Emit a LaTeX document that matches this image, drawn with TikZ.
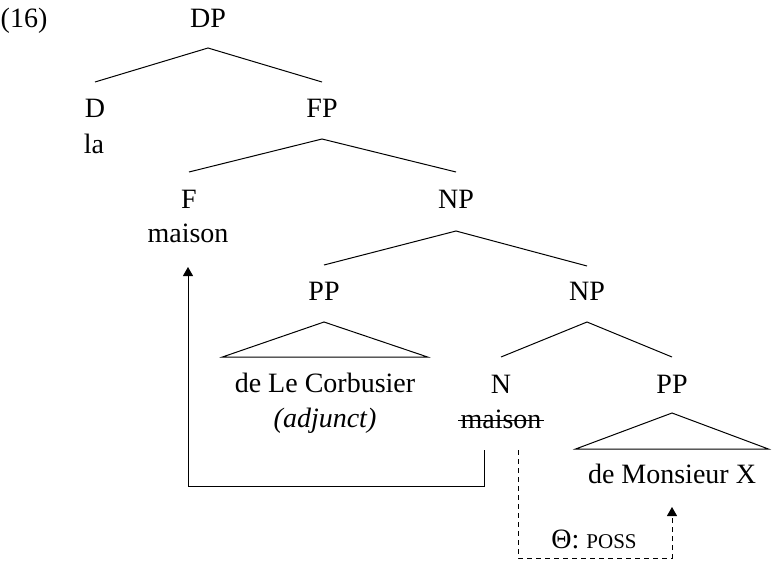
\documentclass[tikz,border=0pt]{standalone}
\usepackage{fontspec}
\setmainfont{Liberation Serif}
\usetikzlibrary{arrows.meta}

\begin{document}
\begin{tikzpicture}[x=0.5pt,y=-0.5pt,
    every node/.style={anchor=base,inner sep=0pt,font=\fontsize{14}{17}\selectfont},
    branch/.style={line width=0.5pt},
    movearrow/.style={line width=0.5pt,-{Triangle[width=5pt,length=4.5pt]}},
    thetaarrow/.style={movearrow,dash pattern=on 2.5pt off 2pt}]
                \useasboundingbox (0,0) rectangle (774,561);
                % labels of the tree
                \node (ex) at (24,28) {(16)};
                \node (dp) at (208,28) {DP};
                \node (d) at (95,118) {D};
                \node (la) at (94,154) {la};
                \node (fp) at (322,118) {FP};
                \node (f) at (189,208) {F};
                \node (fmaison) at (188,242) {maison};
                \node (np) at (456,208) {NP};
                \node (pp) at (324,300) {PP};
                \node (corb) at (325,392) {de Le Corbusier};
                \node (adj) at (325,427) {\itshape (adjunct)};
                \node (np2) at (587,300) {NP};
                \node (n) at (501,393) {N};
                \node (nmaison) at (501,428) {maison};
                \node (pp2) at (672,393) {PP};
                \node (monsieur) at (672,483) {de Monsieur X};
                \node (poss) at (594,548) {Θ: {\fontsize{10.5}{12}\selectfont POSS}};
                % branches
                \draw[branch] ([yshift=18pt]d.base) -- ([yshift=-10pt]dp.base) -- ([yshift=18pt]fp.base);
                \draw[branch] ([yshift=18pt]f.base) -- ([yshift=-10.5pt]fp.base) -- ([yshift=18pt]np.base);
                \draw[branch] ([yshift=17.5pt]pp.base) -- ([yshift=-11.5pt]np.base) -- ([yshift=17pt]np2.base);
                \draw[branch] ([yshift=18pt]n.base) -- ([yshift=-11pt]np2.base) -- ([yshift=18pt]pp2.base);
                % triangles
                \draw[branch] ([yshift=-11pt]pp.base) -- ([xshift=-6pt,yshift=17.5pt]corb.base west)
                    -- ([xshift=6pt,yshift=17.5pt]corb.base east) -- cycle;
                \draw[branch] ([yshift=-10pt]pp2.base) -- ([xshift=-6pt,yshift=17pt]monsieur.base west)
                    -- ([xshift=6pt,yshift=17pt]monsieur.base east) -- cycle;
                % trace
                \draw[branch] ([xshift=-1pt,yshift=3.6pt]nmaison.base west) -- ([xshift=1pt,yshift=3.6pt]nmaison.base east);
                % movement and theta role
                \draw[movearrow] ([xshift=-8.5pt,yshift=-11pt]nmaison.base) -- ++(0,36) -| ([yshift=-12.5pt]fmaison.base);
                \draw[thetaarrow] ([xshift=8.5pt,yshift=-11pt]nmaison.base) -- ++(0,108) -| ([yshift=-12pt]monsieur.base);
            \end{tikzpicture}
\end{document}
